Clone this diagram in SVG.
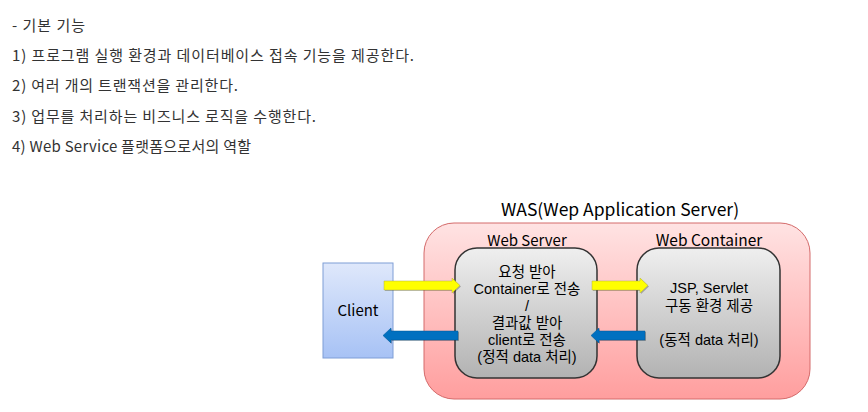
<svg xmlns="http://www.w3.org/2000/svg" width="868" height="412" viewBox="0 0 868 412">
<defs>
<style>
.t{font-family:"Noto Sans CJK KR","Noto Sans",sans-serif;fill:#333;font-size:15px}
.d{font-family:"Noto Sans CJK KR","Noto Sans",sans-serif;fill:#000;text-anchor:middle}
.s{font-family:"Liberation Sans","Noto Sans CJK KR",sans-serif;fill:#000;text-anchor:middle;font-size:14.5px}
.box{stroke:#333;stroke-width:1.5}
</style>
<linearGradient id="gClient" x1="0" y1="0" x2="0" y2="1"><stop offset="0" stop-color="#dfe8fb"/><stop offset="1" stop-color="#a7c2f5"/></linearGradient>
<linearGradient id="gWas" x1="0" y1="0" x2="0" y2="1"><stop offset="0" stop-color="#ffe3e3"/><stop offset="1" stop-color="#ff9e9e"/></linearGradient>
<linearGradient id="gBox" x1="0" y1="0" x2="0" y2="1"><stop offset="0" stop-color="#efefef"/><stop offset="1" stop-color="#b2b2b2"/></linearGradient>
</defs>
<rect width="868" height="412" fill="#fff"/>
<g id="text">
<text class="t" x="12" y="31" textLength="73" lengthAdjust="spacing">- 기본 기능</text>
<text class="t" x="12" y="61" textLength="402" lengthAdjust="spacing">1) 프로그램 실행 환경과 데이터베이스 접속 기능을 제공한다.</text>
<text class="t" x="12" y="91" textLength="226" lengthAdjust="spacing">2) 여러 개의 트랜잭션을 관리한다.</text>
<text class="t" x="12" y="122" textLength="304" lengthAdjust="spacing">3) 업무를 처리하는 비즈니스 로직을 수행한다.</text>
<text class="t" x="12" y="152" textLength="239" lengthAdjust="spacing">4) Web Service 플랫폼으로서의 역할</text>
</g>
<g id="was">
<rect x="424" y="223" width="386" height="176" rx="30" fill="url(#gWas)" stroke="#d46a6a" stroke-width="1"/>
<text class="d" x="620" y="216" font-size="17.5">WAS(Wep Application Server)</text>
<text class="d" x="527" y="246" font-size="15">Web Server</text>
<text class="d" x="709" y="246" font-size="15.5">Web Container</text>
</g>
<g id="client">
<rect x="323" y="263" width="70" height="95" fill="url(#gClient)" stroke="#7f9ed6" stroke-width="1"/>
<text class="d" x="358" y="316" font-size="15">Client</text>
</g>
<g id="webserver">
<rect x="455" y="248" width="142" height="130" rx="22" fill="url(#gBox)" class="box"/>
<text class="s"><tspan x="527" y="277">요청 받아</tspan><tspan x="527" y="294">Container로 전송</tspan><tspan x="527" y="311">/</tspan><tspan x="527" y="328">결과값 받아</tspan><tspan x="527" y="345">client로 전송</tspan><tspan x="527" y="362">(정적 data 처리)</tspan></text>
</g>
<g id="webcontainer">
<rect x="637" y="248" width="143" height="130" rx="22" fill="url(#gBox)" class="box"/>
<text class="s"><tspan x="709" y="293">JSP, Servlet</tspan><tspan x="709" y="311">구동 환경 제공</tspan><tspan x="709" y="345">(동적 data 처리)</tspan></text>
</g>
<g id="connectors">
<g fill="#000" opacity="0.25">
<polygon points="385,282 453,282 453,279 461,286.5 453,294 453,291 385,291"/>
<polygon points="593,282 641,282 641,279 649,286.5 641,294 641,291 593,291"/>
<polygon points="459,332 392,332 392,329 384,336.5 392,344 392,341 459,341"/>
<polygon points="646,332 600,332 600,329 592,336.5 600,344 600,341 646,341"/>
</g>
<polygon points="384,281 452,281 452,278 460,285.5 452,293 452,290 384,290" fill="#ffff00" stroke="#b0b040" stroke-width="0.5"/>
<polygon points="592,281 640,281 640,278 648,285.5 640,293 640,290 592,290" fill="#ffff00" stroke="#b0b040" stroke-width="0.5"/>
<polygon points="458,331 391,331 391,328 383,335.5 391,343 391,340 458,340" fill="#0070c0" stroke="#005a9a" stroke-width="0.5"/>
<polygon points="645,331 599,331 599,328 591,335.5 599,343 599,340 645,340" fill="#0070c0" stroke="#005a9a" stroke-width="0.5"/>
</g>
</svg>
